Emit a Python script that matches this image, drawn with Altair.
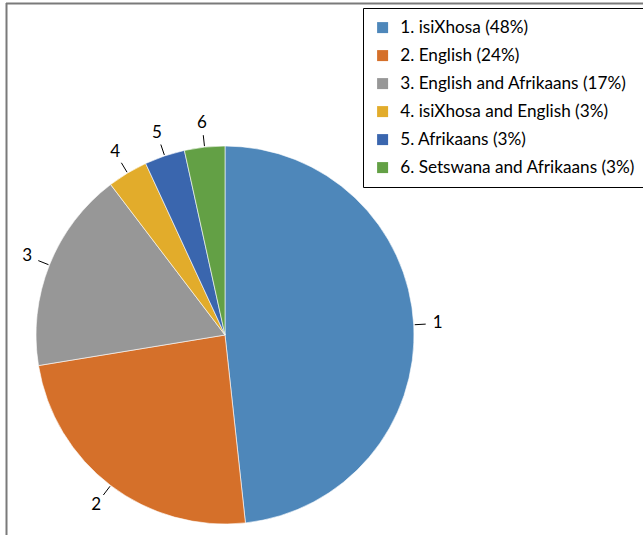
import altair as alt
import pandas as pd

numbers = ["1", "2", "3", "4", "5", "6"]
labels = [
    "1. isiXhosa (48%)",
    "2. English (24%)",
    "3. English and Afrikaans (17%)",
    "4. isiXhosa and English (3%)",
    "5. Afrikaans (3%)",
    "6. Setswana and Afrikaans (3%)",
]
counts = [14, 7, 5, 1, 1, 1]
colors = ["#4E87BA", "#D5702A", "#979797", "#E2AC2B", "#3A66AE", "#63A045"]

df = pd.DataFrame({"num": numbers, "label": labels, "n": counts, "order": list(range(1, 7))})

CX, CY, R = 225, 335, 189
FONT = "Lato"

base = (
    alt.Chart(df)
    .transform_joinaggregate(total="sum(n)")
    .transform_window(cum="sum(n)", sort=[alt.SortField("order")], frame=[None, 0])
    .transform_calculate(mid="(datum.cum - datum.n/2)/datum.total*2*PI")
)

pie = alt.Chart(df).mark_arc(outerRadius=R, stroke="white", strokeWidth=0.6).encode(
    theta=alt.Theta("n:Q", stack=True),
    order=alt.Order("order:Q"),
    color=alt.Color(
        "label:N",
        scale=alt.Scale(domain=labels, range=colors),
        sort=labels,
        legend=alt.Legend(
            title=None,
            orient="none",
            legendX=363,
            legendY=8,
            strokeColor="black",
            padding=11,
            symbolType="square",
            symbolSize=121,
            symbolStrokeWidth=0,
            labelFont=FONT,
            labelFontSize=17.2,
            labelColor="black",
            labelOffset=9,
            rowPadding=10,
            labelLimit=400,
        ),
    ),
    x=alt.value(CX),
    y=alt.value(CY),
)

lines = base.transform_calculate(
    lx1=f"{CX} + {R + 1}*sin(datum.mid)",
    ly1=f"{CY} - {R + 1}*cos(datum.mid)",
    lx2=f"{CX} + {R + 12}*sin(datum.mid)",
    ly2=f"{CY} - {R + 12}*cos(datum.mid)",
).mark_rule(color="black", strokeWidth=1).encode(
    x=alt.X("lx1:Q", scale=None, axis=None),
    y=alt.Y("ly1:Q", scale=None, axis=None),
    x2="lx2:Q",
    y2="ly2:Q",
)

texts = base.transform_calculate(
    tx=f"{CX} + 213*sin(datum.mid)",
    ty=f"{CY} - 213*cos(datum.mid)",
).mark_text(font=FONT, fontSize=17, color="black", align="center", baseline="middle").encode(
    x=alt.X("tx:Q", scale=None, axis=None),
    y=alt.Y("ty:Q", scale=None, axis=None),
    text="num:N",
)

one = pd.DataFrame({"a": [0]})
top_line = alt.Chart(one).mark_rule(color="#7a7a7a", strokeWidth=2).encode(
    x=alt.value(6), x2=alt.value(643), y=alt.value(3.5)
)
left_line = alt.Chart(one).mark_rule(color="#7a7a7a", strokeWidth=2).encode(
    x=alt.value(6.5), y=alt.value(3), y2=alt.value(535)
)

chart = (
    alt.layer(pie, lines, texts, top_line, left_line)
    .properties(width=643, height=535, autosize=alt.AutoSizeParams(type="none"), padding=0)
    .configure_view(strokeWidth=0)
)

chart.save("out.html", embed_options={"renderer": "svg", "actions": False})
